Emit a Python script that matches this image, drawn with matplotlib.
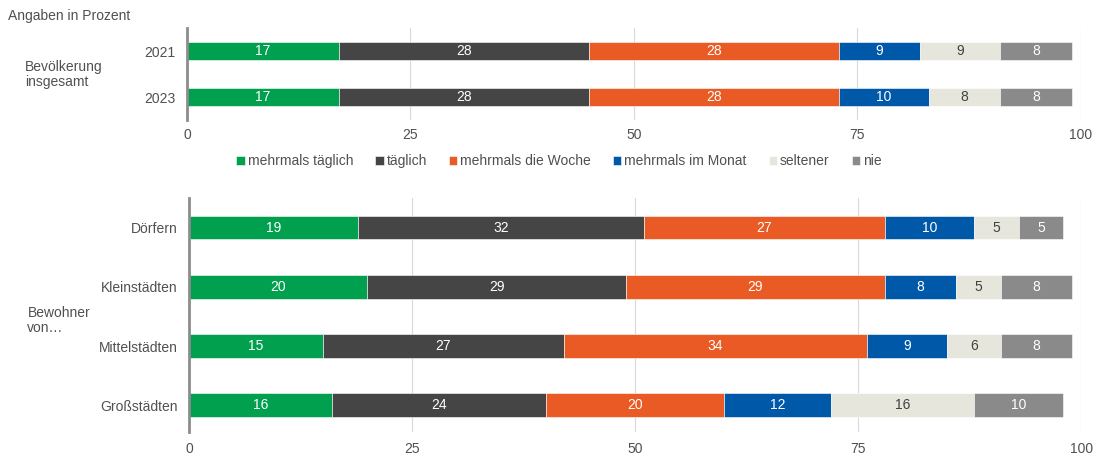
import matplotlib.pyplot as plt
import numpy as np

plt.rcParams['font.family'] = ['Liberation Sans', 'DejaVu Sans']

categories = ["mehrmals täglich", "täglich", "mehrmals die Woche",
              "mehrmals im Monat", "seltener", "nie"]
colors = ["#00a04f", "#454545", "#e95a24", "#0058a8", "#e7e6dd", "#8a8a8a"]
text_colors = ["white", "white", "white", "white", "#404040", "white"]

# top panel: population overall
years = ["2021", "2023"]
total_2021 = [17, 28, 28, 9, 9, 8]
total_2023 = [17, 28, 28, 10, 8, 8]

# bottom panel: residents by municipality size
places = ["Dörfern", "Kleinstädten", "Mittelstädten", "Großstädten"]
doerfer = [19, 32, 27, 10, 5, 5]
kleinstaedte = [20, 29, 29, 8, 5, 8]
mittelstaedte = [15, 27, 34, 9, 6, 8]
grossstaedte = [16, 24, 20, 12, 16, 10]

xticks = [0, 25, 50, 75, 100]
txt = "#505050"


def stacked(ax, labels, rows, height, xpad):
    data = np.array(rows, dtype=float)
    y = np.arange(len(labels))
    left = np.zeros(len(labels))
    for i, cat in enumerate(categories):
        bars = ax.barh(y, data[:, i], left=left, height=height, color=colors[i],
                       label=cat, edgecolor="white", linewidth=0.4, zorder=3)
        for b, v in zip(bars, data[:, i]):
            ax.text(b.get_x() + b.get_width() / 2, b.get_y() + b.get_height() / 2,
                    f"{v:.0f}", ha="center", va="center", fontsize=10,
                    color=text_colors[i], zorder=4)
        left += data[:, i]
    ax.set_yticks(y)
    ax.set_yticklabels(labels, fontsize=10, color=txt)
    ax.set_xlim(0, 100)
    ax.set_xticks(xticks)
    ax.set_xticklabels([str(t) for t in xticks], fontsize=10, color=txt)
    ax.tick_params(length=0)
    ax.tick_params(axis="x", pad=xpad)
    ax.tick_params(axis="y", pad=8)
    ax.grid(axis="x", color="#d9d9d9", linewidth=0.8, zorder=0)
    for s in ["top", "right", "bottom"]:
        ax.spines[s].set_visible(False)
    ax.spines["left"].set_color("#8c8c8c")
    ax.spines["left"].set_linewidth(2)
    ax.spines["left"].set_zorder(5)


fig = plt.figure(figsize=(10.96, 4.57), dpi=100)

ax1 = fig.add_axes([0.1706, 0.7374, 0.8153, 0.2013])
stacked(ax1, years, [total_2021, total_2023], 0.39, 6)
ax1.set_ylim(1.5, -0.5)

ax2 = fig.add_axes([0.1724, 0.0547, 0.8140, 0.5120])
stacked(ax2, places, [doerfer, kleinstaedte, mittelstaedte, grossstaedte], 0.40, 7)
ax2.set_ylim(3.45, -0.5)

fig.text(0.007, 0.965, "Angaben in Prozent", fontsize=10, color=txt,
         ha="left", va="center")
fig.text(0.023, 0.836, "Bevölkerung\ninsgesamt", fontsize=10, color=txt,
         ha="left", va="center", linespacing=1.1)
fig.text(0.025, 0.298, "Bewohner\nvon…", fontsize=10, color=txt,
         ha="left", va="center", linespacing=1.1)

handles, labels = ax1.get_legend_handles_labels()
fig.legend(handles, labels, loc="center", bbox_to_anchor=(0.51, 0.647), ncol=6,
           frameon=False, fontsize=10, handlelength=0.6, handleheight=0.6,
           handletextpad=0.2, columnspacing=1.6, labelcolor=txt)

fig.savefig("out.png", dpi=100)
